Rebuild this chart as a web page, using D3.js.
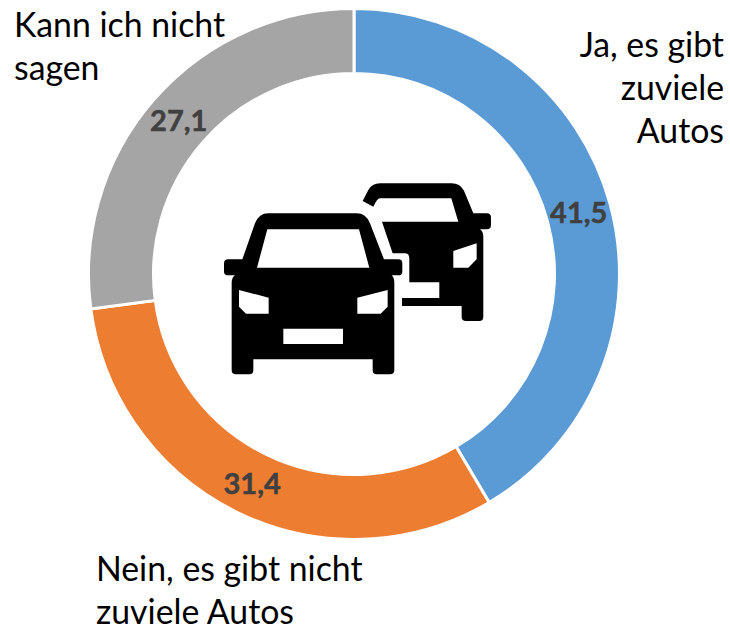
<!DOCTYPE html>
<html>
<head>
<meta charset="utf-8">
<script src="https://cdn.jsdelivr.net/npm/d3@7"></script>
<style>
html, body { margin: 0; padding: 0; background: #fff; }
svg { display: block; }
text { font-family: Lato, "Open Sans", sans-serif; }
</style>
</head>
<body>
<svg id="chart" width="730" height="630"></svg>
<script>
const categories = ['Ja, es gibt zuviele Autos', 'Nein, es gibt nicht zuviele Autos', 'Kann ich nicht sagen'];
const values = [41.5, 31.4, 27.1];
const valueLabels = ['41,5', '31,4', '27,1'];
const colors = ['#5b9bd5', '#ed7d31', '#a5a5a5'];
const labelLines = [
    ['Ja, es gibt', 'zuviele', 'Autos'],
    ['Nein, es gibt nicht', 'zuviele Autos'],
    ['Kann ich nicht', 'sagen']
];

const svg = d3.select('#chart');
const cx = 354, cy = 274, outerR = 265.5, innerR = 200.5;

const pie = d3.pie().sort(null).value(d => d);
const arc = d3.arc().innerRadius(innerR).outerRadius(outerR);
const ring = svg.append('g').attr('transform', `translate(${cx},${cy})`);

// slices
ring.selectAll('path')
    .data(pie(values))
    .join('path')
    .attr('d', arc)
    .attr('fill', (d, i) => colors[i])
    .attr('stroke', '#fff')
    .attr('stroke-width', 3);

// value labels sit on the ring
ring.selectAll('text')
    .data(pie(values))
    .join('text')
    .attr('transform', d => `translate(${arc.centroid(d)})`)
    .attr('text-anchor', 'middle')
    .attr('dy', '0.35em')
    .attr('font-size', 29)
    .attr('font-weight', 700)
    .attr('fill', '#404040')
    .attr('stroke', '#404040')
    .attr('stroke-width', 0.5)
    .text((d, i) => valueLabels[i]);

// category labels, placed by hand like in the original
const labelPos = [
    { x: 724, y: 56.5, anchor: 'end' },
    { x: 96, y: 581, anchor: 'start' },
    { x: 14, y: 37, anchor: 'start' }
];
const lineHeight = 43;
labelLines.forEach((lines, i) => {
    const p = labelPos[i];
    svg.append('text')
        .attr('class', 'cat')
        .attr('text-anchor', p.anchor)
        .attr('font-size', 33.8)
        .attr('fill', '#000')
        .selectAll('tspan')
        .data(lines)
        .join('tspan')
        .attr('x', p.x)
        .attr('y', (d, j) => p.y + j * lineHeight)
        .text(d => d);
});

// cars icon, traced at 3x
const icon = svg.append('g').attr('transform', 'translate(210,170) scale(0.3333)');
icon.append('path')
    .attr('fill-rule', 'evenodd')
    .attr('d', 'M458 93L475 60Q486 40 510 40L725 40Q750 40 762 62L790 130L830 130Q843 130 843 142L843 165Q843 178 830 178L810 178Q820 185 820 200L820 440Q820 453 808 453L768 453Q755 453 755 440L755 408L576 408L576 384L688 384L688 337L598 337L598 265Q598 250 585 250L548 250L516 155L745 155L724 85L510 85Q502 85 490 110Z'
        + 'M800 220L730 243L730 293L775 293L800 268Z');
icon.append('path')
    .attr('fill-rule', 'evenodd')
    .attr('d', 'M175 130L440 130Q468 130 480 160L522 268L565 268Q577 268 577 280L577 305Q577 316 565 316L545 316Q553 322 553 340L553 600Q553 613 540 613L500 613Q488 613 488 600L488 568L130 568L130 600Q130 613 118 613L78 613Q65 613 65 600L65 340Q65 322 75 316L55 316Q42 316 42 305L42 280Q42 268 55 268L97 268L135 160Q147 130 175 130Z'
        + 'M172 178L447 178L478 293L141 293Z'
        + 'M87 360L176 383L176 431L108 431L87 410Z'
        + 'M533 360L442 383L442 431L512 431L533 410Z'
        + 'M220 476L399 476L399 522L220 522Z');
</script>
</body>
</html>
